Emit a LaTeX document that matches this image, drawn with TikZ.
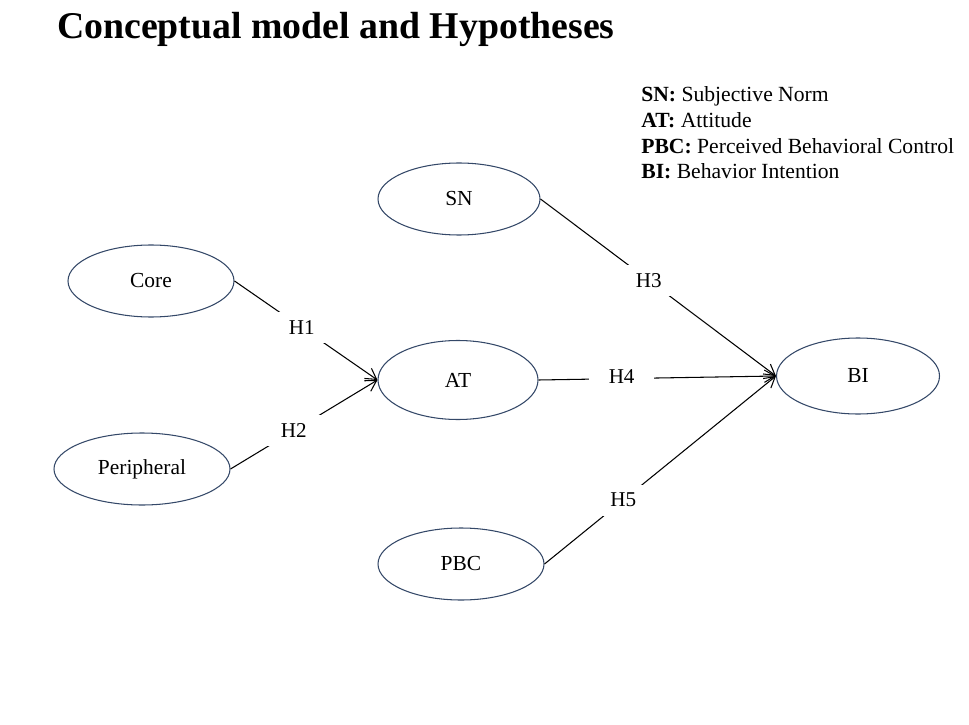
\documentclass[tikz,border=0pt]{standalone}
\usepackage{fontspec}
\setmainfont{Liberation Serif}
\usepackage{xcolor}
\usepackage{tikz}
\usetikzlibrary{shapes.geometric, arrows.meta}

\definecolor{rimblue}{RGB}{52,72,104}

\begin{document}
\begin{tikzpicture}[>={Straight Barb[length=6pt,width=7pt]},
    construct/.style={ellipse, draw=rimblue, line width=0.6pt, font=\fontsize{12.2}{14}\selectfont},
    hyp/.style={fill=white, minimum width=1.3cm, minimum height=0.62cm, inner sep=0pt, font=\fontsize{12}{14}\selectfont},
    link/.style={->, line width=0.6pt}]
    \useasboundingbox (0,0) rectangle (19.38,-14.5);

    \node (title) [anchor=base west, font=\bfseries\fontsize{21.5}{26}\selectfont] at (1.02,-0.78) {Conceptual model and Hypotheses};
    \node (legend) [anchor=north west, align=left, inner sep=0pt, font=\fontsize{12.3}{14.7}\selectfont] at (12.82,-1.72)
        {\textbf{SN:} Subjective Norm\\ \textbf{AT:} Attitude\\ \textbf{PBC:} Perceived Behavioral Control\\ \textbf{BI:} Behavior Intention};

    \node (core) [construct, minimum width=3.32cm, minimum height=1.44cm] at (3.02,-5.62) {Core};
    \node (periph) [construct, minimum width=3.52cm, minimum height=1.44cm] at (2.84,-9.38) {Peripheral};
    \node (sn) [construct, minimum width=3.24cm, minimum height=1.44cm] at (9.18,-3.98) {SN};
    \node (at) [construct, minimum width=3.2cm, minimum height=1.58cm] at (9.16,-7.6) {AT};
    \node (pbc) [construct, minimum width=3.32cm, minimum height=1.44cm] at (9.22,-11.28) {PBC};
    \node (bi) [construct, minimum width=3.26cm, minimum height=1.52cm] at (17.16,-7.52) {BI};

    \draw[link] (core.east) -- node[hyp, pos=0.47] {H1} (at.west);
    \draw[link] (periph.east) -- node[hyp, pos=0.43] {H2} (at.west);
    \draw[link] (sn.east) -- node[hyp, pos=0.46] {H3} (bi.west);
    \draw[link] (at.east) -- node[hyp, pos=0.35, text depth=0.1cm] {H4} (bi.west);
    \draw[link] (pbc.east) -- node[hyp, pos=0.34] {H5} (bi.west);
\end{tikzpicture}
\end{document}
